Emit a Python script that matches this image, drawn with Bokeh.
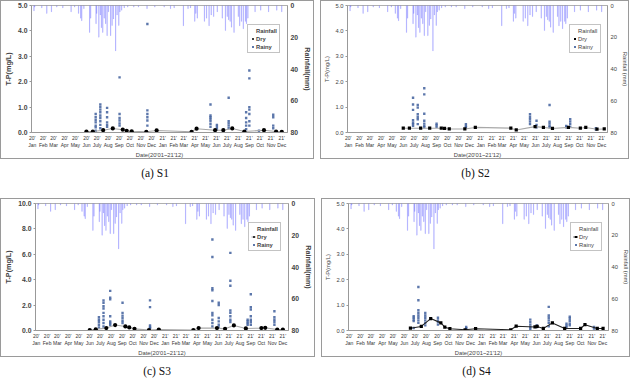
import pandas as pd
from bokeh.plotting import figure
from bokeh.models import (Range1d, LinearAxis, FixedTicker, Legend, LegendItem,
                          PrintfTickFormatter)
from bokeh.layouts import column, row
from bokeh.embed import file_html
from bokeh.resources import INLINE
from bokeh.core.properties import value

# ---------------- data ----------------
tick_years = ["20'"] * 12 + ["21'"] * 12
tick_months = ["Jan", "Feb", "Mar", "Apr", "May", "Jun", "July", "Aug", "Sep", "Oct", "Nov", "Dec"] * 2

rain_dates = ["2020-01-06", "2020-01-08", "2020-01-28", "2020-02-11", "2020-02-24", "2020-03-10",
              "2020-03-27", "2020-04-19", "2020-04-29", "2020-05-10", "2020-05-16", "2020-05-19",
              "2020-05-25", "2020-06-10", "2020-06-13", "2020-06-28", "2020-06-30", "2020-07-06",
              "2020-07-10", "2020-07-13", "2020-07-17", "2020-07-21", "2020-07-25", "2020-07-29",
              "2020-08-02", "2020-08-08", "2020-08-12", "2020-08-16", "2020-08-22", "2020-08-26",
              "2020-08-31", "2020-09-03", "2020-09-08", "2020-09-15", "2020-09-25", "2020-10-12",
              "2020-10-25", "2020-11-18", "2020-12-10",
              "2021-01-05", "2021-01-23", "2021-02-02", "2021-02-28", "2021-03-13", "2021-03-20",
              "2021-04-01", "2021-04-04", "2021-04-08", "2021-04-28", "2021-05-04", "2021-05-11",
              "2021-05-17", "2021-05-24", "2021-06-03", "2021-06-17", "2021-06-26", "2021-07-01",
              "2021-07-05", "2021-07-09", "2021-07-13", "2021-07-20", "2021-08-01", "2021-08-05",
              "2021-08-10", "2021-08-15", "2021-08-21", "2021-08-24", "2021-08-28", "2021-09-17",
              "2021-10-03", "2021-10-25", "2021-11-17", "2021-12-01"]
rain_mm = [3.4, 1.0, 1.5, 5.0, 4.0, 1.0,
           1.5, 4.0, 1.0, 5.0, 8.0, 9.6,
           2.0, 17.0, 8.0, 11.5, 5.0, 20.0,
           6.0, 14.0, 17.0, 8.0, 11.5, 19.0,
           4.0, 19.0, 12.6, 8.5, 28.6, 6.0,
           12.6, 4.0, 3.0, 1.5, 1.0, 1.0,
           1.0, 2.0, 1.0,
           1.0, 2.0, 1.5, 12.8, 2.0, 1.5,
           10.0, 5.0, 8.0, 10.0, 8.0, 12.8,
           6.0, 7.0, 4.0, 8.0, 15.8, 7.0,
           9.0, 10.0, 13.7, 17.0, 7.0, 12.8,
           10.0, 14.7, 10.0, 11.5, 8.0, 4.0,
           3.0, 4.0, 3.0, 4.0]

# S1
s1_dry_dates = ["2020-06-01", "2020-06-19", "2020-07-18", "2020-08-14", "2020-09-11", "2020-09-22",
                "2020-10-06", "2020-11-16", "2020-12-15", "2021-03-23", "2021-04-06", "2021-05-28",
                "2021-06-20", "2021-07-15", "2021-08-18", "2021-10-12", "2021-11-15", "2021-12-01"]
s1_dry_tp = [0.04, 0.04, 0.09, 0.16, 0.11, 0.07, 0.05, 0.03, 0.08, 0.03, 0.15, 0.09,
             0.09, 0.16, 0.04, 0.09, 0.04, 0.03]
s1_event_dates = ["2020-06-27", "2020-07-10", "2020-07-29", "2020-09-02", "2020-11-19", "2021-05-15",
                  "2021-06-02", "2021-07-05", "2021-08-23", "2021-09-01", "2021-09-28", "2021-11-07"]
s1_rainy_tp = [[0.73, 0.6, 0.49, 0.4, 0.27, 0.2, 0.07],
               [1.1, 1.0, 0.9, 0.8, 0.67, 0.57, 0.44, 0.3, 0.17],
               [0.97, 0.8, 0.6, 0.4, 0.3, 0.22],
               [2.17, 0.73, 0.57, 0.47, 0.36, 0.27],
               [4.27, 0.87, 0.73, 0.6, 0.47, 0.27],
               [1.1, 0.67, 0.6, 0.53, 0.44, 0.33, 0.22],
               [0.3, 0.22, 0.13],
               [1.37, 0.44, 0.36, 0.27, 0.17],
               [0.8, 0.57, 0.4, 0.27, 0.13],
               [2.44, 2.13, 1.0, 0.9, 0.73, 0.44, 0.27],
               [0.07],
               [0.7, 0.6, 0.27, 0.17]]

# S2
s2_dry_dates = ["2020-06-01", "2020-06-18", "2020-07-19", "2020-08-13", "2020-09-14", "2020-09-23",
                "2020-10-06", "2020-11-18", "2020-12-17", "2021-03-25", "2021-04-09", "2021-05-31",
                "2021-06-23", "2021-07-18", "2021-08-31", "2021-10-03", "2021-10-18", "2021-11-18",
                "2021-12-08"]
s2_dry_tp = [0.17, 0.17, 0.17, 0.17, 0.17, 0.16, 0.14, 0.14, 0.2, 0.17, 0.1, 0.23,
             0.2, 0.16, 0.2, 0.17, 0.2, 0.13, 0.14]
s2_event_dates = ["2020-06-28", "2020-07-11", "2020-07-29", "2020-09-01", "2020-11-21", "2021-05-17",
                  "2021-06-04", "2021-07-10", "2021-08-25", "2021-09-05", "2021-11-15"]
s2_rainy_tp = [[1.37, 1.1, 0.89, 0.48, 0.39, 0.33, 0.26],
               [1.08, 0.98, 0.72, 0.61, 0.52, 0.33],
               [1.74, 1.5, 0.74, 0.46, 0.35, 0.26, 0.2],
               [0.35, 0.29, 0.22],
               [0.33, 0.26, 0.2],
               [0.72, 0.61, 0.52, 0.43, 0.33],
               [0.46, 0.3, 0.2],
               [1.08, 0.43, 0.35, 0.26, 0.2],
               [0.26, 0.2],
               [0.52, 0.43, 0.33, 0.22],
               [0.17, 0.12]]

# S3
s3_dry_dates = ["2020-06-01", "2020-06-18", "2020-07-18", "2020-08-12", "2020-09-10", "2020-09-21",
                "2020-10-06", "2020-11-16", "2020-12-14", "2021-03-22", "2021-04-06", "2021-05-28",
                "2021-06-20", "2021-07-15", "2021-08-18", "2021-10-01", "2021-10-12", "2021-11-15",
                "2021-12-01"]
s3_dry_tp = [0.03, 0.1, 0.19, 0.43, 0.32, 0.24, 0.13, 0.03, 0.08, 0.03, 0.19, 0.19,
             0.13, 0.4, 0.16, 0.19, 0.21, 0.08, 0.08]
s3_event_dates = ["2020-06-27", "2020-07-10", "2020-07-29", "2020-09-02", "2020-11-19", "2021-05-15",
                  "2021-06-02", "2021-07-05", "2021-08-23", "2021-09-01", "2021-11-07"]
s3_rainy_tp = [[1.04, 0.85, 0.67, 0.45, 0.24],
               [2.37, 2.19, 1.92, 1.73, 1.39, 1.12, 0.85, 0.59, 0.32],
               [3.12, 2.59, 2.45, 1.12, 0.72, 0.59, 0.45],
               [2.19, 1.39, 1.17, 0.99, 0.77, 0.59],
               [2.37, 1.84, 0.4, 0.27, 0.19],
               [7.17, 5.79, 3.33, 3.17, 2.32, 1.39, 1.2, 0.85, 0.59, 0.32],
               [2.19, 2.0, 0.99, 0.72, 0.45, 0.24],
               [6.11, 3.92, 3.52, 1.57, 1.39, 1.12, 0.85, 0.67],
               [0.85, 0.72, 0.59, 0.45],
               [2.85, 1.84, 1.65, 1.12, 0.85, 0.67, 0.45],
               [1.52, 1.04, 0.85, 0.67, 0.45]]

# S4
s4_dry_dates = ["2020-06-18", "2020-07-18", "2020-08-13", "2020-09-10", "2020-09-21", "2020-10-05",
                "2020-11-16", "2020-12-15", "2021-03-22", "2021-04-06", "2021-05-28", "2021-06-03",
                "2021-06-20", "2021-07-15", "2021-08-18", "2021-10-01", "2021-10-13", "2021-11-16",
                "2021-12-02"]
s4_dry_tp = [0.09, 0.16, 0.47, 0.3, 0.13, 0.07, 0.03, 0.07, 0.03, 0.17, 0.14, 0.16,
             0.08, 0.3, 0.08, 0.08, 0.23, 0.08, 0.08]
s4_event_dates = ["2020-06-27", "2020-07-10", "2020-07-29", "2020-09-02", "2020-11-19", "2021-05-15",
                  "2021-06-02", "2021-07-05", "2021-08-23", "2021-09-01", "2021-11-07"]
s4_rainy_tp = [[0.56, 0.5, 0.43, 0.37, 0.1],
               [1.71, 1.19, 0.8, 0.69, 0.59, 0.5, 0.4, 0.3],
               [0.69, 0.59, 0.5, 0.4, 0.3, 0.2],
               [0.5, 0.4, 0.33, 0.23],
               [0.14, 0.09, 0.04],
               [0.43, 0.33, 0.23, 0.14, 0.07],
               [0.2, 0.14],
               [0.93, 0.59, 0.5, 0.4, 0.3, 0.17],
               [0.27, 0.2, 0.14],
               [0.54, 0.46, 0.37, 0.27, 0.2],
               [0.14, 0.08]]

# ---------------- helpers ----------------
BASE = pd.Timestamp("2020-01-01")


def day(s):
    return int((pd.Timestamp(s) - BASE).days)


tick_days = [day(f"{2020 + i // 12}-{i % 12 + 1:02d}-01") for i in range(24)]
tick_overrides = {d: f"{y}\n{m}" for d, y, m in zip(tick_days, tick_years, tick_months)}
rain_x = [day(d) for d in rain_dates]

FONT = "Liberation Sans"
FRAME_H = 125


def make_panel(ymax, ystep, dry_dates, dry_tp, ev_dates, rainy_tp, bold, rain_label,
               dry_marker, dry_size, dry_line_color, legend_line, fw, cap_width, caption):
    style = "bold" if bold else "normal"
    fh = FRAME_H
    p = figure(frame_width=fw, frame_height=fh, x_range=Range1d(-2, 716), y_range=Range1d(0, ymax),
               output_backend="svg", toolbar_location=None,
               min_border_left=10, min_border_right=10, min_border_top=4, min_border_bottom=25)
    p.styles = {"border": "1px solid #9a9a9a"}
    p.xgrid.visible = False
    p.ygrid.visible = False
    p.outline_line_color = "#b0b0b0"
    p.background_fill_color = "white"

    p.extra_y_ranges = {"rain": Range1d(80, 0)}
    rax = LinearAxis(y_range_name="rain", ticker=FixedTicker(ticks=[0, 20, 40, 60, 80]))
    rax.axis_label = rain_label
    p.add_layout(rax, "right")

    # rainfall bars hanging from the top
    p.vbar(x=rain_x, top=0, bottom=rain_mm, width=0.8, y_range_name="rain",
           fill_color="#5a5aff", fill_alpha=0.4, line_color="#5a5aff", line_alpha=0.4,
           line_width=0.6)
    rain_leg = p.vbar(x=[], top=[], bottom=[], width=1, y_range_name="rain",
                      fill_color="#0000ff", line_color="#0000ff")

    # rainy samples
    rx, ry = [], []
    for d, vals in zip(ev_dates, rainy_tp):
        for v in vals:
            rx.append(day(d))
            ry.append(v)
    rainy = p.scatter(rx, ry, marker="square", size=2.4, fill_color="#3f5f9c",
                      fill_alpha=0.85, line_color=None)

    # dry samples
    dx = [day(d) for d in dry_dates]
    dline = p.line(dx, dry_tp, line_color=dry_line_color, line_width=1.1)
    dpts = p.scatter(dx, dry_tp, marker=dry_marker, size=dry_size, fill_color="black",
                     line_color=None)

    # axes
    p.yaxis[0].ticker = FixedTicker(ticks=[ystep * i for i in range(int(round(ymax / ystep)) + 1)])
    p.yaxis[0].formatter = PrintfTickFormatter(format="%.1f")
    p.yaxis[0].axis_label = "T-P(mg/L)"
    p.xaxis.ticker = FixedTicker(ticks=tick_days)
    p.xaxis.major_label_overrides = tick_overrides
    p.xaxis.axis_label = "Date(20'01~21'12)"

    for ax in [p.yaxis[0], rax]:
        ax.major_label_text_font = FONT
        ax.major_label_text_font_size = "6.8px" if bold else "5.8px"
        ax.major_label_text_font_style = style
        ax.axis_label_text_font = FONT
        ax.axis_label_text_font_size = "7.2px" if bold else "5.8px"
        ax.axis_label_text_font_style = "bold" if bold else "normal"
        ax.axis_label_standoff = 2
        ax.major_label_standoff = 2
        ax.major_tick_out = 2
        ax.major_tick_in = 0
        ax.minor_tick_out = 0
        ax.minor_tick_in = 0
        ax.axis_line_color = "#999999"
        ax.major_tick_line_color = "#999999"
    rax.major_tick_out = 0
    rax.major_label_standoff = 3
    rax.axis_label_standoff = 2
    xa = p.xaxis[0]
    xa.major_label_text_font = FONT
    xa.major_label_text_font_size = "5px"
    xa.major_label_text_color = "#333333"
    xa.major_label_standoff = 2
    xa.axis_label_text_font = FONT
    xa.axis_label_text_font_size = "5.8px"
    xa.axis_label_text_font_style = "normal"
    xa.axis_label_standoff = 1
    xa.major_tick_out = 0
    xa.major_tick_in = 0
    xa.minor_tick_out = 0
    xa.minor_tick_in = 0
    xa.axis_line_color = "#999999"

    dry_r = [dline, dpts] if legend_line else [dpts]
    leg = Legend(items=[LegendItem(label="Rainfall", renderers=[rain_leg]),
                        LegendItem(label="Dry", renderers=dry_r),
                        LegendItem(label="Rainy", renderers=[rainy])],
                 location=(fw - (38 if bold else 36), fh - 20 - 26))
    leg.label_text_font = FONT
    leg.label_text_font_size = "5.8px"
    leg.label_text_font_style = style
    leg.glyph_width = 5
    leg.glyph_height = 5
    leg.label_height = 7
    leg.label_standoff = 1
    leg.spacing = 1
    leg.padding = 2
    leg.margin = 0
    leg.border_line_color = "#888888"
    leg.background_fill_color = "white"
    leg.background_fill_alpha = 1
    p.add_layout(leg)

    cap = figure(width=cap_width, height=24, x_range=Range1d(0, 1), y_range=Range1d(0, 1),
                 output_backend="svg", toolbar_location=None, min_border=0,
                 x_axis_location=None, y_axis_location=None)
    cap.grid.visible = False
    cap.outline_line_color = None
    cap.text(x=[0.5], y=[0.45], text=[caption], text_align="center", text_baseline="middle",
             text_font=value("Liberation Serif"), text_font_size="11.5px", text_color="#111111")
    return column(p, cap, spacing=0)


pa = make_panel(5.0, 1.0, s1_dry_dates, s1_dry_tp, s1_event_dates, s1_rainy_tp, True,
                "Rainfall(mm)", "circle", 4.2, "#a8a8a8", False, 254, 310, "(a)  S1")
pb = make_panel(5.0, 1.0, s2_dry_dates, s2_dry_tp, s2_event_dates, s2_rainy_tp, False,
                "Rainfall (mm)", "square", 3.2, "#a8a8a8", False, 258, 310, "(b)  S2")
pc = make_panel(10.0, 2.0, s3_dry_dates, s3_dry_tp, s3_event_dates, s3_rainy_tp, True,
                "Rainfall(mm)", "circle", 4.2, "#a8a8a8", True, 251, 310, "(c)  S3")
pd_ = make_panel(5.0, 1.0, s4_dry_dates, s4_dry_tp, s4_event_dates, s4_rainy_tp, False,
                 "Rainfall (mm)", "square", 3.2, "#222222", True, 258, 310, "(d)  S4")

layout = column(row(pa, pb, spacing=6), row(pc, pd_, spacing=6), spacing=15)

open("out.html", "w").write(file_html(layout, INLINE))
